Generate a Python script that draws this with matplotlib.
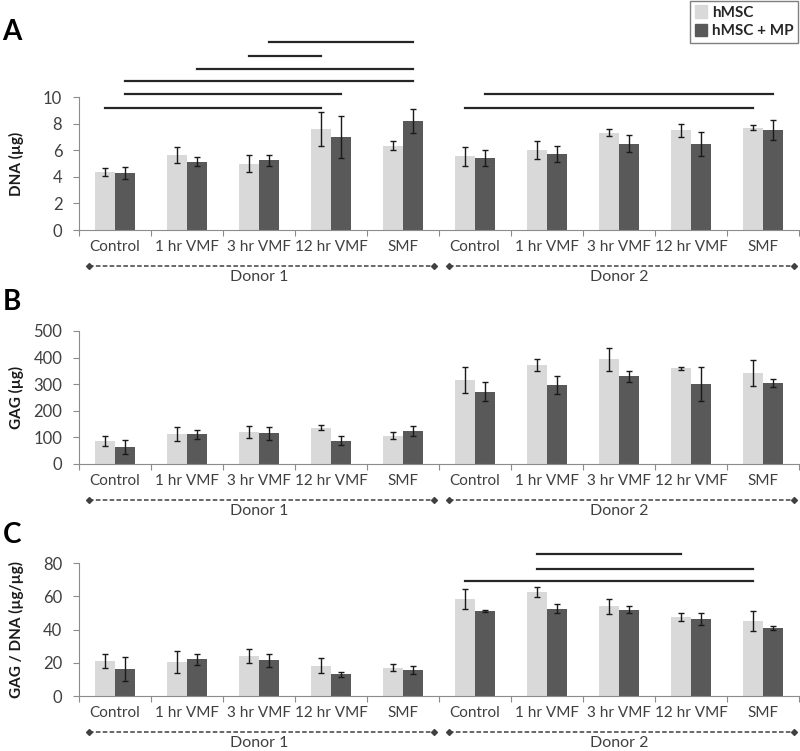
import numpy as np
import matplotlib.pyplot as plt
from matplotlib.patches import Patch

plt.rcParams['font.family'] = ['Lato', 'DejaVu Sans']

groups = ['Control', '1 hr VMF', '3 hr VMF', '12 hr VMF', 'SMF'] * 2
donors = ['Donor 1', 'Donor 2']
series = ['hMSC', 'hMSC + MP']

# panel A: DNA (ug)
dna_msc = [4.35, 5.67, 5.0, 7.6, 6.35, 5.55, 6.0, 7.33, 7.5, 7.7]
dna_msc_err = [0.3, 0.6, 0.67, 1.3, 0.35, 0.7, 0.66, 0.24, 0.47, 0.17]
dna_mp = [4.3, 5.15, 5.25, 7.0, 8.2, 5.42, 5.72, 6.5, 6.5, 7.52]
dna_mp_err = [0.45, 0.33, 0.4, 1.55, 0.9, 0.63, 0.58, 0.67, 0.9, 0.72]

# panel B: GAG (ug)
gag_msc = [88, 112, 120, 136, 106, 317, 373, 394, 359, 343]
gag_msc_err = [19, 27, 23, 10, 13, 49, 23, 43, 6, 49]
gag_mp = [65, 112, 115, 88, 125, 272, 297, 330, 301, 305]
gag_mp_err = [26, 17, 24, 18, 18, 35, 35, 21, 64, 14]

# panel C: GAG / DNA (ug/ug)
ratio_msc = [20.9, 20.5, 24.1, 18.1, 17.1, 58.3, 62.3, 54.1, 47.8, 45.2]
ratio_msc_err = [4.1, 6.7, 4.4, 4.5, 2.1, 5.9, 3.0, 4.5, 2.4, 5.8]
ratio_mp = [16.3, 22.1, 21.5, 13.1, 15.7, 51.1, 52.5, 51.9, 46.4, 40.8]
ratio_mp_err = [7.1, 3.3, 4.0, 1.5, 2.5, 0.4, 2.7, 2.0, 3.7, 1.3]

# significance bars: (group a, series a, group b, series b, height)
dna_sig = [(0, 0, 3, 0, 9.2), (0, 1, 3, 1, 10.2), (0, 1, 4, 1, 11.2),
           (1, 1, 4, 1, 12.1), (2, 0, 3, 0, 13.1), (2, 1, 4, 1, 14.1),
           (5, 0, 9, 0, 9.2), (5, 1, 9, 1, 10.2)]
gag_sig = []
ratio_sig = [(5, 0, 9, 0, 69.1), (6, 0, 9, 0, 76.7), (6, 0, 8, 0, 85.2)]

panels = [
    ('A', 'DNA (µg)', dna_msc, dna_msc_err, dna_mp, dna_mp_err, 10, 2, dna_sig, 0.6937, 0.9574),
    ('B', 'GAG (µg)', gag_msc, gag_msc_err, gag_mp, gag_mp_err, 500, 100, gag_sig, 0.3822, 0.598),
    ('C', 'GAG / DNA (µg/µg)', ratio_msc, ratio_msc_err, ratio_mp, ratio_mp_err, 80, 20, ratio_sig, 0.0732, 0.2876),
]

light = '#d9d9d9'
dark = '#595959'
axis_col = '#8c8c8c'
text_col = '#404040'
bw = 0.278

fig = plt.figure(figsize=(8, 7.51), dpi=100)

for letter, ylab, m, me, p, pe, ymax, ystep, sig, bottom, ly in panels:
    ax = fig.add_axes([0.09875, bottom, 0.9, 0.1771])
    x = np.arange(len(groups)) + 0.5
    ax.bar(x - bw / 2, m, bw, color=light, zorder=2)
    ax.bar(x + bw / 2, p, bw, color=dark, zorder=2)
    ax.errorbar(x - bw / 2, m, yerr=me, fmt='none', ecolor='#1a1a1a',
                elinewidth=1, capsize=2.5, capthick=1, zorder=3)
    ax.errorbar(x + bw / 2, p, yerr=pe, fmt='none', ecolor='#1a1a1a',
                elinewidth=1, capsize=2.5, capthick=1, zorder=3)

    for ga, sa, gb, sb, h in sig:
        xa = ga + 0.5 + (bw / 2 if sa else -bw / 2)
        xb = gb + 0.5 + (bw / 2 if sb else -bw / 2)
        ax.plot([xa, xb], [h, h], color='#262626', lw=1.6, clip_on=False)

    ax.set_xlim(0, 10)
    ax.set_ylim(0, ymax)
    ax.set_yticks(np.arange(0, ymax + 1e-9, ystep))
    ax.set_xticks(np.arange(0, 11))
    ax.set_xticklabels([])
    ax.set_xticks(x, minor=True)
    ax.set_xticklabels(groups, minor=True)
    ax.tick_params(axis='x', which='major', direction='out', length=4, color=axis_col)
    ax.tick_params(axis='x', which='minor', length=0, pad=7, labelsize=11, labelcolor=text_col)
    ax.tick_params(axis='y', direction='out', length=4, color=axis_col, pad=8,
                   labelsize=12, labelcolor=text_col)
    for s in ['top', 'right']:
        ax.spines[s].set_visible(False)
    for s in ['left', 'bottom']:
        ax.spines[s].set_color(axis_col)
    ax.set_ylabel(ylab, fontweight='bold', fontsize=11, color='#1a1a1a')
    ax.yaxis.set_label_coords(-0.0764, 0.5)

    tr = ax.get_xaxis_transform()
    for d, name in enumerate(donors):
        ax.plot([d * 5 + 0.14, d * 5 + 4.93], [-0.27, -0.27], transform=tr, clip_on=False,
                color='#404040', lw=1.1, ls=(0, (3, 1.5)), marker='D', ms=3,
                markevery=[0, 1])
        ax.text(d * 5 + 2.5, -0.355, name, transform=tr, ha='center', va='center',
                fontsize=11.5, color=text_col)

    fig.text(0.003, ly, letter, fontsize=20, fontweight='bold', ha='left', va='center')

leg = fig.legend(handles=[Patch(color=light, label=series[0]), Patch(color=dark, label=series[1])],
                 loc='upper right', bbox_to_anchor=(0.9975, 0.999), fancybox=False,
                 edgecolor='#7f7f7f', framealpha=1, prop={'weight': 'bold', 'size': 11},
                 handlelength=0.8, handleheight=0.9, handletextpad=0.3, borderpad=0.3,
                 labelspacing=0.25, borderaxespad=0)
for t in leg.get_texts():
    t.set_color('#262626')

fig.savefig('out.png', dpi=100)
